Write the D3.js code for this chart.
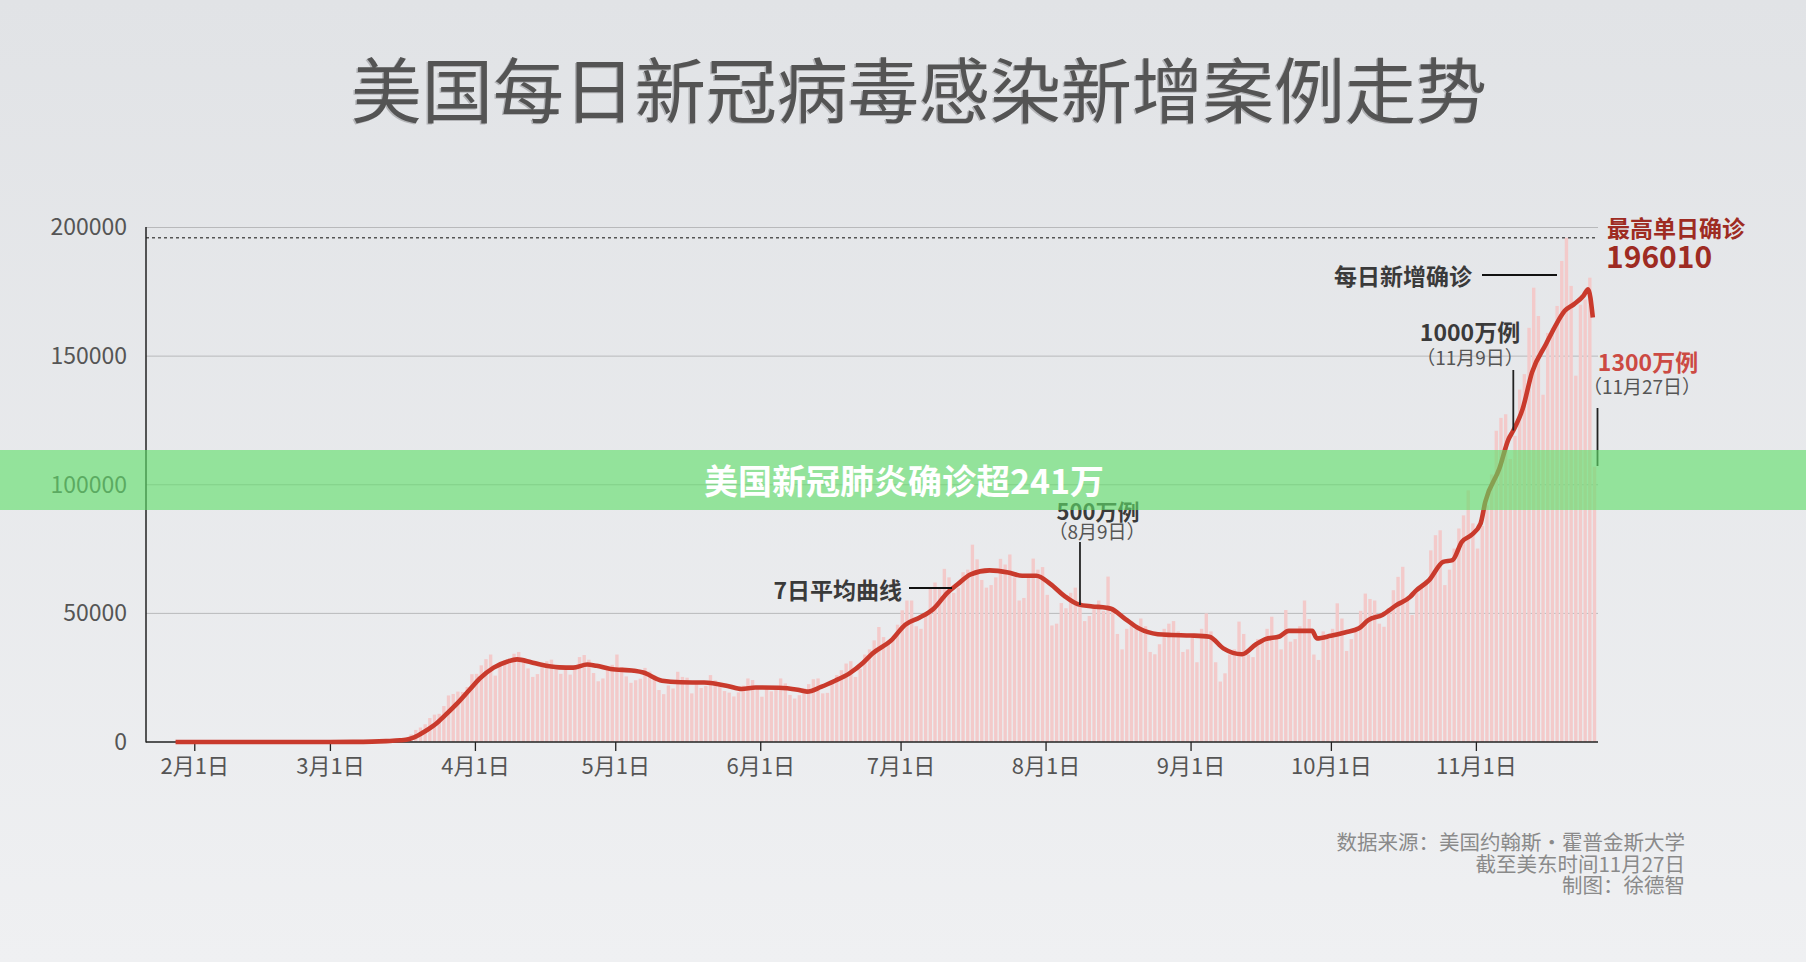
<!DOCTYPE html>
<html><head><meta charset="utf-8">
<script src="https://cdn.jsdelivr.net/npm/d3@7"></script>
<style>
html,body{margin:0;padding:0;background:#e8e9eb;}
body{width:1806px;height:962px;overflow:hidden;}
svg{display:block;font-family:"Noto Sans CJK SC","Noto Sans",sans-serif;}
</style></head><body><svg id="chart" width="1806" height="962"></svg>
<script>
// ---------------- data ----------------
const startDate = "2020-01-22";
const endDate = "2020-11-27";
const casesJan = [1, 0, 1, 0, 3, 0, 0, 0, 1, 2];
const casesFeb = [1, 0, 3, 0, 1, 0, 0, 0, 0, 1, 0, 1, 0, 0, 0, 0, 0, 0, 0, 0, 2, 0, 0, 36, 0, 6, 1, 3, 8];
const casesMar = [7, 23, 20, 33, 75, 55, 118, 117, 165, 291, 289, 454, 566, 681, 780, 1159, 1786, 2931, 4692, 5625, 6891, 9314, 10644, 10955, 13974, 18097, 18676, 19599, 19457, 21386, 26364];
const casesApr = [26500, 29800, 32200, 34000, 25800, 30100, 31700, 32300, 34300, 35000, 31200, 28600, 25300, 26400, 29600, 31400, 32000, 29600, 26500, 28100, 26200, 28900, 33000, 33800, 32000, 26800, 23600, 24700, 28000, 30000];
const casesMay = [34000, 29000, 25500, 23000, 24000, 24600, 28800, 27400, 25800, 20200, 18600, 22000, 20800, 27300, 25300, 25000, 18900, 22600, 21000, 21800, 26000, 24000, 22100, 19800, 19200, 17700, 19300, 21900, 24700, 24100, 21800];
const casesJun = [17600, 20600, 19700, 20700, 24700, 22800, 18300, 16900, 18200, 21000, 22500, 24400, 24700, 18900, 19100, 23200, 26000, 27900, 30500, 31400, 25300, 28500, 34000, 36000, 39500, 44700, 40800, 38900, 40500, 45600];
const casesJul = [51200, 55000, 55000, 45000, 44000, 49000, 60000, 62000, 60000, 67300, 64000, 58000, 60000, 66000, 67000, 76700, 71000, 63000, 60000, 61000, 64000, 71200, 69000, 72900, 64000, 55000, 56000, 64000, 71300, 67000, 68000];
const casesAug = [57200, 45300, 46000, 54000, 52000, 58000, 60000, 55000, 47000, 49000, 53000, 55000, 51000, 64300, 52000, 42000, 36000, 44000, 47000, 44000, 48000, 45000, 35000, 34100, 38000, 44000, 46000, 47000, 43000, 35000, 36000];
const casesSep = [41000, 31000, 44000, 50000, 43000, 31000, 23500, 26700, 34000, 36000, 46800, 42000, 34000, 33000, 40000, 40000, 44000, 48700, 41000, 36000, 51300, 39000, 40000, 45000, 55000, 47800, 34000, 31900, 43000, 40000];
const casesOct = [44000, 53900, 48000, 35400, 40000, 43000, 51000, 57700, 55600, 55000, 46000, 44800, 52000, 59000, 64200, 68100, 56000, 49400, 58000, 60000, 63000, 74500, 80400, 82300, 61000, 67000, 75200, 83000, 88100, 97800, 85000];
const casesNov = [75200, 84000, 92000, 104000, 121000, 126000, 127400, 110000, 119000, 137000, 143000, 161000, 176600, 165600, 135000, 159000, 161000, 169500, 187000, 196010, 177300, 142400, 170000, 172000, 180500, 107000];

// 7-day average curve
const avgDates = ["2020-01-28","2020-02-20","2020-03-01","2020-03-06","2020-03-10","2020-03-13","2020-03-16","2020-03-18","2020-03-19","2020-03-21","2020-03-23","2020-03-24","2020-03-26","2020-03-28","2020-03-31",
  "2020-04-02","2020-04-05","2020-04-08","2020-04-10","2020-04-13","2020-04-15","2020-04-19","2020-04-22","2020-04-25","2020-04-27","2020-04-30",
  "2020-05-05","2020-05-07","2020-05-11","2020-05-15","2020-05-20","2020-05-25","2020-05-28","2020-05-31",
  "2020-06-05","2020-06-09","2020-06-11","2020-06-14","2020-06-17","2020-06-20","2020-06-23","2020-06-25","2020-06-29",
  "2020-07-02","2020-07-05","2020-07-08","2020-07-11","2020-07-13","2020-07-16","2020-07-20","2020-07-24","2020-07-27","2020-07-30",
  "2020-08-02","2020-08-05","2020-08-08","2020-08-11","2020-08-14","2020-08-15","2020-08-18","2020-08-21","2020-08-25","2020-08-28",
  "2020-09-01","2020-09-05","2020-09-08","2020-09-12","2020-09-15","2020-09-17","2020-09-20","2020-09-22","2020-09-27","2020-09-28",
  "2020-10-01","2020-10-04","2020-10-07","2020-10-09","2020-10-12","2020-10-15","2020-10-18","2020-10-19","2020-10-22","2020-10-25","2020-10-27","2020-10-29","2020-10-31",
  "2020-11-02","2020-11-03","2020-11-06","2020-11-08","2020-11-09","2020-11-11","2020-11-13","2020-11-16","2020-11-18","2020-11-20","2020-11-22","2020-11-24","2020-11-25","2020-11-26"];
const avgValues = [0,1,8,35,150,350,650,1200,1800,3800,6200,7600,11000,14600,20600,
  24600,28900,31300,32100,31000,30100,29000,28900,30100,29600,28400,
  27700,27000,23800,23200,23100,21800,20600,21200,
  21100,20300,19600,21400,23800,26600,30800,34400,39500,
  45600,48300,51700,58000,61000,65200,66700,65900,64600,64600,
  61500,56800,53500,52700,52200,51800,47900,44100,41900,41600,
  41400,40900,36400,34100,38000,40000,41000,43200,43200,40300,
  41300,42600,44200,47400,49400,53200,56500,58500,62900,70000,70700,77800,80400,
  84900,93300,106200,117800,121100,129500,143700,154700,161800,167600,170200,173500,176000,165000];

const yTicks = [0, 50000, 100000, 150000, 200000];
const monthTicks = ["2020-02-01","2020-03-01","2020-04-01","2020-05-01","2020-06-01","2020-07-01","2020-08-01","2020-09-01","2020-10-01","2020-11-01"];
const monthLabels = ["2月1日","3月1日","4月1日","5月1日","6月1日","7月1日","8月1日","9月1日","10月1日","11月1日"];

const maxValue = 196010;
const milestones = [
  {date:"2020-08-09", big:"500万例", small:"（8月9日）"},
  {date:"2020-11-09", big:"1000万例", small:"（11月9日）"},
  {date:"2020-11-27", big:"1300万例", small:"（11月27日）"}
];

const titleText = "美国每日新冠病毒感染新增案例走势";
const bannerText = "美国新冠肺炎确诊超241万";
const footerLines = ["数据来源：美国约翰斯·霍普金斯大学","截至美东时间11月27日","制图：徐德智"];

// ---------------- drawing ----------------
const W = 1806, H = 962;
const svg = d3.select("#chart");
const defs = svg.append("defs");
const bg = defs.append("linearGradient").attr("id","bg").attr("x1",0).attr("y1",0).attr("x2",0).attr("y2",1);
bg.append("stop").attr("offset","0%").attr("stop-color","#e1e3e6");
bg.append("stop").attr("offset","100%").attr("stop-color","#eff0f2");
svg.append("rect").attr("width",W).attr("height",H).attr("fill","url(#bg)");

const parse = d3.utcParse("%Y-%m-%d");
const t0 = parse(startDate);
const daily = [].concat(casesJan,casesFeb,casesMar,casesApr,casesMay,casesJun,casesJul,casesAug,casesSep,casesOct,casesNov);
const dailyData = daily.map((v,i)=>({date:d3.utcDay.offset(t0,i), value:v}));
const avgData = avgDates.map((d,i)=>({date:parse(d), value:avgValues[i]}));

const x = d3.scaleUtc().domain([t0, parse(endDate)]).range([147.5, 1597.5]);
const y = d3.scaleLinear().domain([0, 200000]).range([742, 227.5]);
const left = 146, right = 1598;

// title
const title = svg.append("g");
title.append("text").attr("x",917.5).attr("y",86.5).attr("text-anchor","middle").attr("dominant-baseline","central")
  .attr("font-size",71).attr("fill","#b4b5b8").text(titleText);
title.append("text").attr("x",919).attr("y",85.5).attr("text-anchor","middle").attr("dominant-baseline","central")
  .attr("font-size",71).attr("fill","#545454").text(titleText);

// gridlines
svg.append("g").selectAll("line").data(yTicks.filter(v=>v>0)).join("line")
  .attr("x1",left).attr("x2",right).attr("y1",d=>y(d)).attr("y2",d=>y(d))
  .attr("stroke","#b8b9bb").attr("stroke-width",1);

// bars
const barW = x(d3.utcDay.offset(t0,1)) - x(t0) - 1.3;
svg.append("g").selectAll("rect").data(dailyData).join("rect")
  .attr("x",d=>x(d.date)).attr("width",barW)
  .attr("y",d=>y(d.value)).attr("height",d=>y(0)-y(d.value))
  .attr("fill","#f3caca");

// max dashed line
svg.append("line").attr("x1",left).attr("x2",right).attr("y1",y(maxValue)).attr("y2",y(maxValue))
  .attr("stroke","#555").attr("stroke-width",1.4).attr("stroke-dasharray","3,3");

// y axis labels
const yAxis = svg.append("g").attr("transform",`translate(${left},0)`)
  .call(d3.axisLeft(y).tickValues(yTicks).tickSize(0).tickPadding(19).tickFormat(d=>String(d)));
yAxis.select(".domain").remove();
yAxis.selectAll("text").attr("font-size",23).attr("fill","#555").attr("font-family","'Noto Sans CJK SC','Noto Sans',sans-serif");

// x axis
const xAxis = svg.append("g").attr("transform","translate(0,742)")
  .call(d3.axisBottom(x).tickValues(monthTicks.map(parse)).tickFormat((d,i)=>monthLabels[i]).tickSizeInner(9).tickSizeOuter(0).tickPadding(7));
xAxis.select(".domain").remove();
xAxis.selectAll(".tick line").attr("stroke","#222").attr("stroke-width",1.3);
xAxis.selectAll("text").attr("font-size",22).attr("fill","#555").attr("font-family","'Noto Sans CJK SC',sans-serif");

// axis lines
svg.append("line").attr("x1",left).attr("x2",left).attr("y1",227).attr("y2",742.5).attr("stroke","#222").attr("stroke-width",1.5);
svg.append("line").attr("x1",left).attr("x2",right).attr("y1",742).attr("y2",742).attr("stroke","#222").attr("stroke-width",1.5);

// average line
const line = d3.line().x(d=>x(d.date)).y(d=>y(d.value)).curve(d3.curveMonotoneX);
svg.append("path").datum(avgData).attr("d",line).attr("fill","none")
  .attr("stroke","#c93a2c").attr("stroke-width",4.6).attr("stroke-linejoin","round");

// annotations
const ann = svg.append("g");
const bold = (xx,yy,txt,size,color,anchor)=>ann.append("text").attr("x",xx).attr("y",yy).attr("text-anchor",anchor||"middle")
  .attr("dominant-baseline","central").attr("font-size",size).attr("font-weight",700).attr("fill",color).text(txt);
const small = (xx,yy,txt,anchor)=>ann.append("text").attr("x",xx).attr("y",yy).attr("text-anchor",anchor||"middle")
  .attr("dominant-baseline","central").attr("font-size",19).attr("fill","#555").text(txt);
const vline = (xx,y1,y2)=>ann.append("line").attr("x1",xx).attr("x2",xx).attr("y1",y1).attr("y2",y2).attr("stroke","#222").attr("stroke-width",1.8);
const hline = (x1,x2,yy)=>ann.append("line").attr("x1",x1).attr("x2",x2).attr("y1",yy).attr("y2",yy).attr("stroke","#111").attr("stroke-width",2);

// max
bold(1607,227,"最高单日确诊",23,"#9e2b22","start");
bold(1606,255,String(maxValue),30,"#9e2b22","start");
// daily cases label
bold(1472,275,"每日新增确诊",23,"#3a3a3a","end");
hline(1482,1557,275);
// 7-day label
bold(902,589,"7日平均曲线",23,"#3a3a3a","end");
hline(909,952,588);

// milestones
const m500 = milestones[0], m1000 = milestones[1], m1300 = milestones[2];
const avgAt = ds => { const t = parse(ds); const b = d3.bisector(d=>d.date).left(avgData,t); const a = avgData[Math.max(0,b-1)], c = avgData[Math.min(avgData.length-1,b)]; if(+c.date===+a.date) return c.value; return a.value + (c.value-a.value)*((t-a.date)/(c.date-a.date)); };
bold(1098,510,m500.big,22,"#3a3a3a");
small(1097,530,m500.small);
vline(x(parse(m500.date))-3,542,y(avgAt(m500.date)));
bold(1470,331,m1000.big,23,"#3a3a3a");
small(1470,356,m1000.small);
vline(x(parse(m1000.date)),370,y(avgAt(m1000.date)));
bold(1648,361,m1300.big,23,"#cc4a43");
small(1642,385,m1300.small);
vline(x(parse(m1300.date)),408,466);

// footer
const foot = svg.append("g");
footerLines.forEach((t,i)=>{
  foot.append("text").attr("x",1685).attr("y",[841,863,884][i]).attr("text-anchor","end").attr("dominant-baseline","central")
    .attr("font-size",20.5).attr("fill","#8a8a8a").text(t);
});

// green banner overlay
svg.append("rect").attr("x",0).attr("y",450).attr("width",W).attr("height",60).attr("fill","rgb(95,222,105)").attr("fill-opacity",0.62);
svg.append("text").attr("x",904).attr("y",479).attr("text-anchor","middle").attr("dominant-baseline","central")
  .attr("font-size",34).attr("font-weight",700).attr("fill","#ffffff").text(bannerText);
</script>
</body></html>
